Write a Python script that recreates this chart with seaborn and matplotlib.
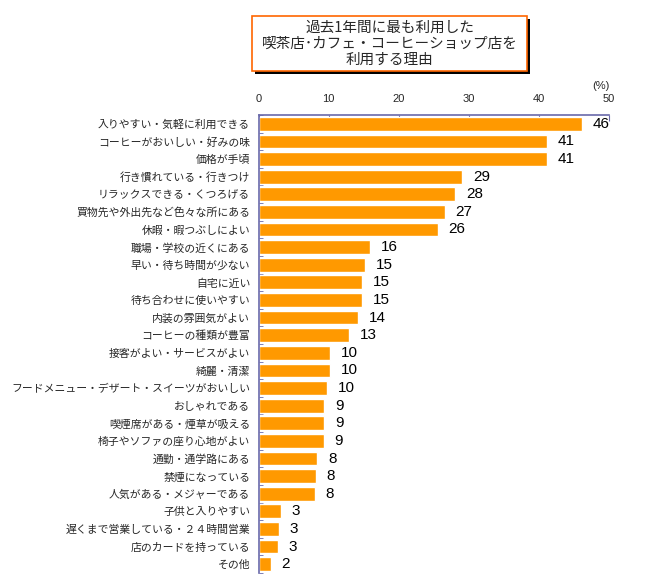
import matplotlib
matplotlib.use('Agg')
import matplotlib.pyplot as plt
import seaborn as sns
import pandas as pd
from matplotlib.patches import Rectangle

# Reasons for using the coffee shop (percent)
reasons = [
    '入りやすい・気軽に利用できる',
    'コーヒーがおいしい・好みの味',
    '価格が手頃',
    '行き慣れている・行きつけ',
    'リラックスできる・くつろげる',
    '買物先や外出先など色々な所にある',
    '休暇・暇つぶしによい',
    '職場・学校の近くにある',
    '早い・待ち時間が少ない',
    '自宅に近い',
    '待ち合わせに使いやすい',
    '内装の雰囲気がよい',
    'コーヒーの種類が豊富',
    '接客がよい・サービスがよい',
    '綺麗・清潔',
    'フードメニュー・デザート・スイーツがおいしい',
    'おしゃれである',
    '喫煙席がある・煙草が吸える',
    '椅子やソファの座り心地がよい',
    '通勤・通学路にある',
    '禁煙になっている',
    '人気がある・メジャーである',
    '子供と入りやすい',
    '遅くまで営業している・２４時間営業',
    '店のカードを持っている',
    'その他',
]
values = [46.1, 41.2, 41.2, 29.1, 28.1, 26.6, 25.6, 15.9, 15.2, 14.8, 14.8,
          14.2, 12.9, 10.2, 10.2, 9.8, 9.4, 9.4, 9.3, 8.4, 8.2, 8.1,
          3.2, 2.9, 2.8, 1.8]

df = pd.DataFrame({'reason': reasons, 'value': values})

sns.set_style('white')
plt.rcParams['font.family'] = ['Noto Sans CJK JP', 'DejaVu Sans']

fig = plt.figure(figsize=(6.59, 5.74), dpi=100)
ax = fig.add_axes([0.3923, 0.0017, 0.5318, 0.798])

sns.barplot(data=df, x='value', y='reason', color='#FF9900', width=0.78,
            saturation=1, ax=ax)

for i, v in enumerate(values):
    ax.text(v + 1.5, i, f'{v:.0f}', va='center', ha='left', fontsize=11,
            color='black', family='Liberation Sans')

axis_col = '#6A6AAA'
ax.set_xlim(0, 50)
ax.set_ylim(len(values) - 0.5, -0.5)
ax.xaxis.tick_top()
ax.set_xticks(range(0, 51, 10))
ax.tick_params(axis='x', direction='in', length=4, color=axis_col,
               labelsize=8, pad=8)
for lbl in ax.get_xticklabels():
    lbl.set_family('Liberation Sans')
ax.tick_params(axis='y', length=0, labelsize=7.8, pad=6)
ax.set_yticks([i + 0.5 for i in range(-1, len(values))], minor=True)
ax.tick_params(axis='y', which='minor', direction='in', length=3,
               color=axis_col, left=True)
ax.set_xlabel('')
ax.set_ylabel('')
for s in ['right', 'bottom']:
    ax.spines[s].set_visible(False)
for s in ['top', 'left']:
    ax.spines[s].set_color(axis_col)
    ax.spines[s].set_linewidth(1.2)

fig.text(601 / 659, 1 - 86 / 574, '(%)', fontsize=8, ha='center',
         va='center', family='Liberation Sans')

# Title box with shadow
x0, y0, w, h = 252 / 659, 1 - 71 / 574, 275 / 659, 55 / 574
fig.patches.append(Rectangle((x0 + 3 / 659, y0 - 3 / 574), w, h,
                             transform=fig.transFigure, facecolor='black',
                             edgecolor='none', zorder=1))
fig.patches.append(Rectangle((x0, y0), w, h, transform=fig.transFigure,
                             facecolor='white', edgecolor='#FF6600',
                             linewidth=1.2, zorder=2))
fig.text(x0 + w / 2, y0 + h / 2,
         '過去1年間に最も利用した\n喫茶店･カフェ・コーヒーショップ店を\n利用する理由',
         ha='center', va='center', fontsize=10.5, linespacing=1.2, zorder=3)

plt.savefig('out.png', dpi=100)
